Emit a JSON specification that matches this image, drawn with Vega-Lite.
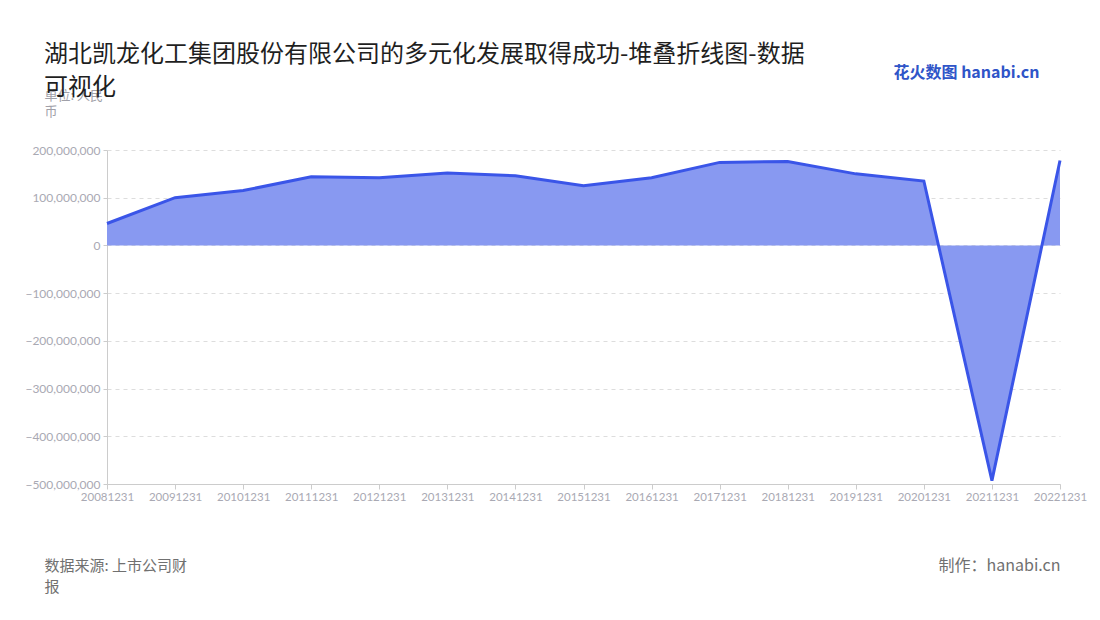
{
  "$schema": "https://vega.github.io/schema/vega-lite/v6.json",
  "autosize": "none",
  "padding": {"left": 107, "top": 150, "right": 40, "bottom": 136},
  "width": 953,
  "height": 334,
  "background": "#ffffff",
  "title": {
    "text": ["湖北凯龙化工集团股份有限公司的多元化发展取得成功-堆叠折线图-数据", "可视化"],
    "anchor": "start",
    "frame": "group",
    "dx": -63,
    "dy": 86,
    "offset": 50,
    "font": "Noto Sans CJK SC",
    "fontSize": 24,
    "fontWeight": "normal",
    "color": "#1f1f1f",
    "lineHeight": 33
  },
  "config": {
    "view": {"stroke": null},
    "font": "Noto Sans CJK SC",
    "axis": {
      "labelColor": "#a9a9b3",
      "labelFont": "Lato",
      "labelFontSize": 12,
      "domainColor": "#cccccc",
      "tickColor": "#cccccc",
      "gridColor": "#dddddd",
      "gridDash": [4, 4]
    }
  },
  "data": {
    "values": [
      {"date": "20081231", "value": 46000000},
      {"date": "20091231", "value": 100000000},
      {"date": "20101231", "value": 115000000},
      {"date": "20111231", "value": 144000000},
      {"date": "20121231", "value": 142000000},
      {"date": "20131231", "value": 152000000},
      {"date": "20141231", "value": 146000000},
      {"date": "20151231", "value": 125000000},
      {"date": "20161231", "value": 142000000},
      {"date": "20171231", "value": 174000000},
      {"date": "20181231", "value": 176000000},
      {"date": "20191231", "value": 150000000},
      {"date": "20201231", "value": 135000000},
      {"date": "20211231", "value": -493000000},
      {"date": "20221231", "value": 178000000}
    ]
  },
  "resolve": {"axis": {"x": "independent", "y": "independent"}},
  "layer": [
    {
      "mark": {"type": "area", "color": "#8899f1", "opacity": 1},
      "encoding": {
        "x": {
          "field": "date",
          "type": "ordinal",
          "scale": {"type": "point", "padding": 0},
          "axis": {
            "labelAngle": 0,
            "labelFontSize": 11.5,
            "tickSize": 5,
            "title": ["数据来源: 上市公司财", "报"],
            "titleX": -63,
            "titleY": 74,
            "titleAlign": "left",
            "titleAnchor": null,
            "titleBaseline": "top",
            "titleFont": "Noto Sans CJK SC",
            "titleFontSize": 15,
            "titleFontWeight": "normal",
            "titleColor": "#707070",
            "titleLineHeight": 21
          }
        },
        "y": {
          "field": "value",
          "type": "quantitative",
          "scale": {"domain": [-500000000, 200000000], "nice": false},
          "axis": {
            "values": [-500000000, -400000000, -300000000, -200000000, -100000000, 0, 100000000, 200000000],
            "format": ",d",
            "tickSize": 4,
            "labelPadding": 3,
            "title": ["单位: 人民", "币"],
            "titleAngle": 0,
            "titleX": -63,
            "titleY": -61,
            "titleAlign": "left",
            "titleAnchor": null,
            "titleBaseline": "top",
            "titleFont": "Noto Sans CJK SC",
            "titleFontSize": 13,
            "titleFontWeight": "normal",
            "titleColor": "#a0a0a8",
            "titleLineHeight": 16
          }
        }
      }
    },
    {
      "mark": {"type": "line", "color": "#3a55e8", "strokeWidth": 3},
      "encoding": {
        "x": {
          "field": "date",
          "type": "ordinal",
          "scale": {"type": "point", "padding": 0},
          "axis": {
            "orient": "top",
            "labels": false,
            "ticks": false,
            "domain": false,
            "grid": false,
            "title": "制作：hanabi.cn",
            "titleX": 953,
            "titleY": 407,
            "titleAlign": "right",
            "titleAnchor": null,
            "titleBaseline": "top",
            "titleFont": "Noto Sans CJK SC",
            "titleFontSize": 16,
            "titleFontWeight": "normal",
            "titleColor": "#707070"
          }
        },
        "y": {
          "field": "value",
          "type": "quantitative",
          "scale": {"domain": [-500000000, 200000000], "nice": false},
          "axis": {
            "orient": "right",
            "labels": false,
            "ticks": false,
            "domain": false,
            "grid": false,
            "title": "花火数图 hanabi.cn",
            "titleAngle": 0,
            "titleX": -167,
            "titleY": -78,
            "titleAlign": "left",
            "titleAnchor": null,
            "titleBaseline": "middle",
            "titleFont": "Noto Sans CJK SC",
            "titleFontSize": 16,
            "titleFontWeight": "bold",
            "titleColor": "#2f55c8"
          }
        }
      }
    }
  ]
}
